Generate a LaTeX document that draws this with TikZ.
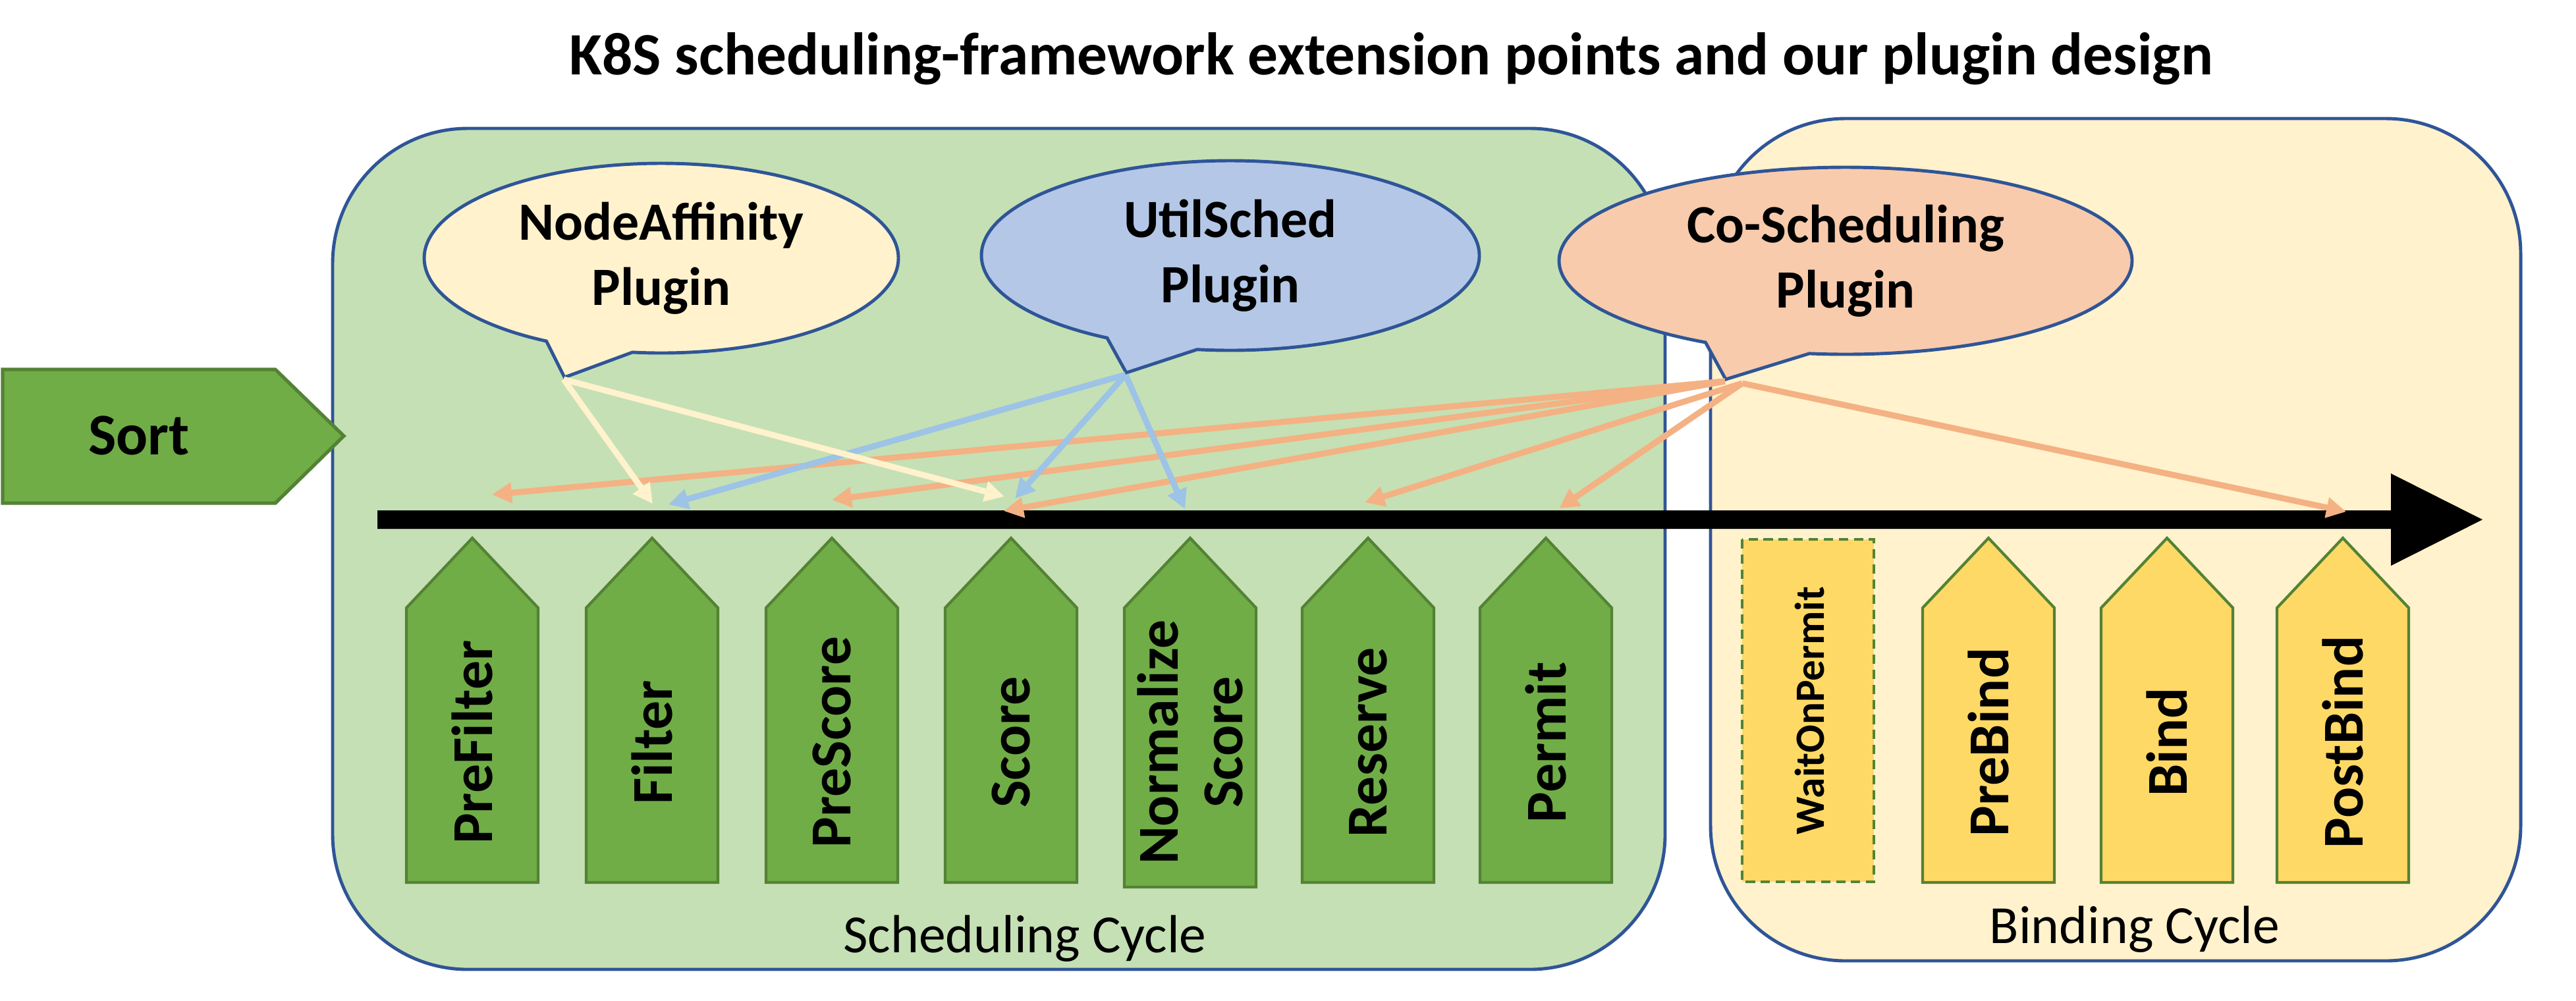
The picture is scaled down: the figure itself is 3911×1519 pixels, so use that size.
\documentclass[tikz,border=0pt]{standalone}
\usepackage{fontspec}
\setmainfont{Carlito}
\usetikzlibrary{arrows.meta,shapes.callouts}

\definecolor{schedgreen}{HTML}{C5E0B4}
\definecolor{bindyellow}{HTML}{FFF2CC}
\definecolor{frameblue}{HTML}{2F5597}
\definecolor{stagegreen}{HTML}{70AD47}
\definecolor{stageedge}{HTML}{548235}
\definecolor{stageyellow}{HTML}{FFD966}
\definecolor{utilblue}{HTML}{B4C7E7}
\definecolor{coorange}{HTML}{F8CBAD}
\definecolor{linkblue}{HTML}{9DC3E6}
\definecolor{linkorange}{HTML}{F4B183}

\tikzset{
  cyclebox/.style={draw=frameblue, line width=1.4pt, rounded corners=2.05cm},
  stagegr/.style={fill=stagegreen, draw=stageedge, line width=1.2pt},
  stageye/.style={fill=stageyellow, draw=stageedge, line width=1.2pt},
  stagetxt/.style={rotate=90, align=center, inner sep=0pt, font=\fontsize{25}{28}\selectfont\bfseries},
  bubble/.style={ellipse callout, draw=frameblue, line width=1.4pt, callout pointer arc=22,
    inner sep=0pt, align=center, font=\fontsize{23.3}{28}\selectfont\bfseries},
  link/.style={line width=2.6pt, -{Triangle[length=8.5pt,width=8.5pt]}},
}

\begin{document}
\begin{tikzpicture}[x=0.1mm, y=-0.1mm]
  \useasboundingbox (0,0) rectangle (3911,1519);

  \node (title) at (2112,113) [anchor=base, font=\fontsize{26}{30}\selectfont\bfseries]
    {K8S scheduling-framework extension points and our plugin design};

  % the two cycles
  \draw[cyclebox, fill=schedgreen] (505,195) rectangle (2528,1472);
  \draw[cyclebox, fill=bindyellow] (2597,180) rectangle (3827,1459);
  \node (schedlbl) at (1556,1446) [anchor=base, font=\fontsize{23.2}{28}\selectfont] {Scheduling Cycle};
  \node (bindlbl) at (3241,1432) [anchor=base, font=\fontsize{23.2}{28}\selectfont] {Binding Cycle};

  % queue sort
  \draw[fill=stagegreen, draw=stageedge, line width=1.5pt]
    (4,561) -- (418,561) -- (522,662) -- (418,764) -- (4,764) -- cycle;
  \node (sort) at (211,690) [anchor=base, font=\fontsize{25.5}{28}\selectfont\bfseries] {Sort};

  % time line
  \fill (573,775) -- (3630,775) -- (3630,719) -- (3769,789) -- (3630,859) -- (3630,803) -- (573,803) -- cycle;

  % extension points
  \foreach \nm/\cx/\by/\lbl in {pf/717/1340/PreFilter, fi/990/1340/Filter, ps/1263/1340/PreScore,
      sc/1535/1340/Score, ns/1807/1347/{Normalize\\Score}, rs/2077/1340/Reserve, pm/2347/1340/Permit} {
    \draw[stagegr] (\cx-100,\by) -- (\cx-100,923) -- (\cx,817) -- (\cx+100,923) -- (\cx+100,\by) -- cycle;
    \node (\nm) at (\cx,1127) [stagetxt] {\lbl};
  }
  \draw[stageye, dashed, dash pattern=on 4pt off 2.5pt] (2645,819) rectangle (2845,1339);
  \node (wp) at (2747,1079) [stagetxt, font=\fontsize{18}{22}\selectfont\bfseries] {WaitOnPermit};
  \foreach \nm/\cx/\lbl in {pb/3019/PreBind, bi/3290/Bind, po/3557/PostBind} {
    \draw[stageye] (\cx-100,1340) -- (\cx-100,923) -- (\cx,817) -- (\cx+100,923) -- (\cx+100,1340) -- cycle;
    \node (\nm) at (\cx,1127) [stagetxt] {\lbl};
  }

  % plugins
  \node (na) at (1004,392) [bubble, fill=bindyellow, minimum width=7.2cm, minimum height=2.88cm,
    callout absolute pointer={(857,573)}] {NodeAffinity\\Plugin};
  \node (us) at (1868,388) [bubble, fill=utilblue, minimum width=7.56cm, minimum height=2.88cm,
    callout absolute pointer={(1710,566)}] {UtilSched\\Plugin};
  \node (cs) at (2802,396) [bubble, fill=coorange, minimum width=8.7cm, minimum height=2.84cm,
    callout absolute pointer={(2620,576)}] {Co-Scheduling\\Plugin};

  \coordinate (cs-b) at (2645,582);
  \coordinate (pf-o) at (747,751);
  \coordinate (fi-y) at (991,765);
  \coordinate (fi-b) at (1015,766);
  \coordinate (ps-o) at (1263,759);
  \coordinate (sc-y) at (1525,754);
  \coordinate (sc-b) at (1541,757);
  \coordinate (sc-o) at (1524,776);
  \coordinate (ns-b) at (1799,773);
  \coordinate (rs-o) at (2072,763);
  \coordinate (pm-o) at (2367,772);
  \coordinate (po-o) at (3562,777);

  % which plugin hooks into which point
  \draw[link, linkorange] (cs.pointer) -- (pf-o);
  \draw[link, linkorange] (cs.pointer) -- (ps-o);
  \draw[link, linkorange] (cs.pointer) -- (sc-o);
  \draw[link, linkorange] (cs-b) -- (rs-o);
  \draw[link, linkorange] (cs-b) -- (pm-o);
  \draw[link, linkorange] (cs-b) -- (po-o);
  \draw[link, linkblue] (us.pointer) -- (fi-b);
  \draw[link, linkblue] (us.pointer) -- (sc-b);
  \draw[link, linkblue] (us.pointer) -- (ns-b);
  \draw[link, bindyellow] (na.pointer) -- (fi-y);
  \draw[link, bindyellow] (na.pointer) -- (sc-y);
\end{tikzpicture}
\end{document}
